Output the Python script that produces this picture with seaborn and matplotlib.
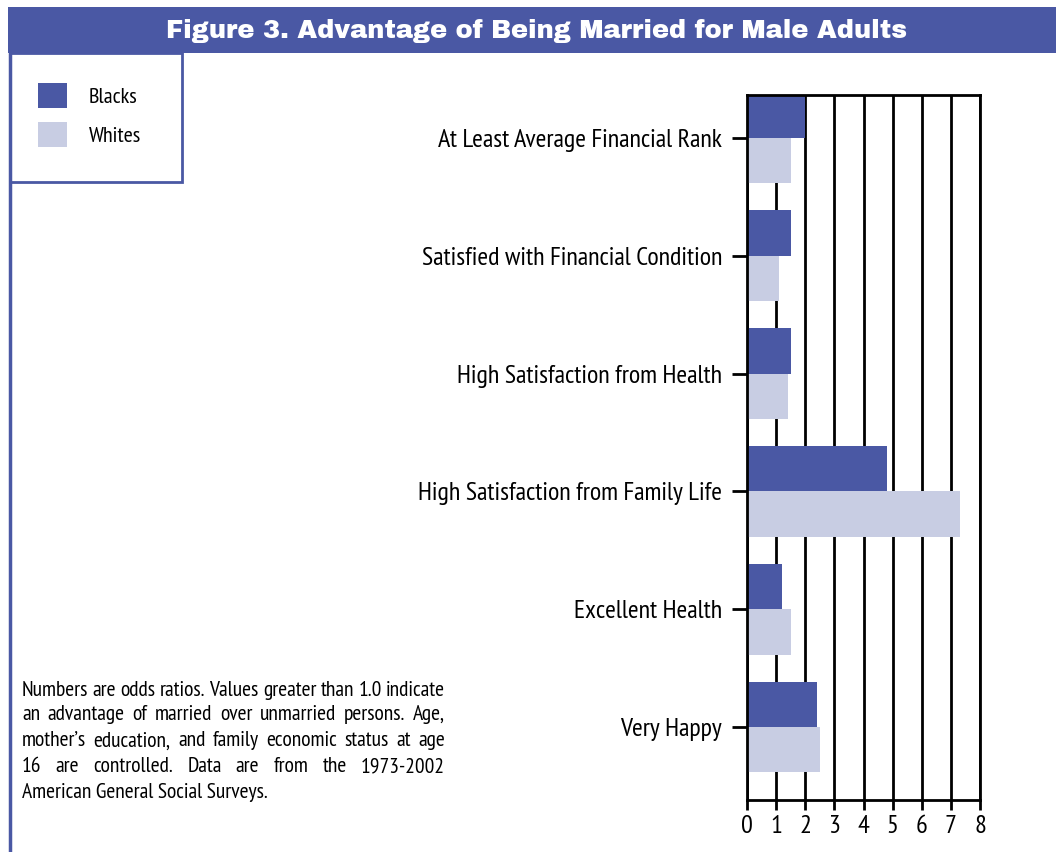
import matplotlib
matplotlib.use("Agg")
import matplotlib.pyplot as plt
import seaborn as sns
import pandas as pd
from matplotlib.patches import Rectangle, Patch
from matplotlib.lines import Line2D

categories = [
    "At Least Average Financial Rank",
    "Satisfied with Financial Condition",
    "High Satisfaction from Health",
    "High Satisfaction from Family Life",
    "Excellent Health",
    "Very Happy",
]
blacks = [2.0, 1.5, 1.5, 4.8, 1.2, 2.4]
whites = [1.5, 1.1, 1.4, 7.3, 1.5, 2.5]
groups = ["Blacks", "Whites"]
x_ticks = [0, 1, 2, 3, 4, 5, 6, 7, 8]

title = "Figure 3. Advantage of Being Married for Male Adults"
note_lines = [
    "Numbers are odds ratios. Values greater than 1.0 indicate",
    "an advantage of married over unmarried persons. Age,",
    "mother\u2019s education, and family economic status at age",
    "16 are controlled. Data are from the 1973-2002",
    "American General Social Surveys.",
]

DARK = "#4A58A4"
LIGHT = "#C8CDE3"
NARROW = ["PT Sans Narrow", "DejaVu Sans"]
HEAVY = ["Archivo Black", "DejaVu Sans"]

df = pd.DataFrame({
    "category": categories * 2,
    "value": blacks + whites,
    "group": [groups[0]] * len(categories) + [groups[1]] * len(categories),
})

sns.set_style("white")
plt.rcParams["font.family"] = NARROW
plt.rcParams["text.color"] = "black"

W, H = 1056, 852
fig = plt.figure(figsize=(W / 100, H / 100), dpi=100)

def fx(px):
    return px / W

def fy(py):
    return 1 - py / H

ax = fig.add_axes([fx(747), fy(800), fx(980) - fx(747), fy(95) - fy(800)])
sns.barplot(data=df, y="category", x="value", hue="group", order=categories,
            hue_order=groups, palette=[DARK, LIGHT], orient="h", width=0.77,
            gap=0, saturation=1, ax=ax, legend=False)
ax.set_xlim(0, 8)
ax.set_ylim(5.62, -0.365)
ax.set_xticks(x_ticks)
ax.set_xticklabels([str(t) for t in x_ticks], fontsize=19, family=NARROW, color="black")
ax.set_yticks(range(len(categories)))
ax.set_yticklabels(categories, fontsize=18.7, family=NARROW, color="black")
ax.set_xlabel("")
ax.set_ylabel("")
ax.set_axisbelow(True)
ax.grid(axis="x", color="black", linewidth=2)
ax.grid(axis="y", visible=False)
for s in ax.spines.values():
    s.set_visible(True)
    s.set_color("black")
    s.set_linewidth(2)
ax.tick_params(axis="y", left=True, length=11, width=2, color="black", pad=7, direction="out")
ax.tick_params(axis="x", bottom=True, length=7, width=2, color="black", pad=4, direction="out")
for p in ax.patches:
    p.set_edgecolor("none")

# Title band
fig.patches.append(Rectangle((fx(8), fy(53)), 1 - fx(8), fy(7) - fy(53),
                             transform=fig.transFigure, facecolor=DARK,
                             edgecolor="none", zorder=0))
fig.text(fx(537), fy(31), title, color="white", fontsize=18.5,
         family=HEAVY, ha="center", va="center")

# Left border line
fig.add_artist(Line2D([fx(10), fx(10)], [fy(53), 0], transform=fig.transFigure,
                      color=DARK, linewidth=2.5))
# Legend box
fig.patches.append(Rectangle((fx(10), fy(182)), fx(182) - fx(10), fy(53) - fy(182),
                             transform=fig.transFigure, facecolor="white",
                             edgecolor=DARK, linewidth=2, zorder=1))
handles = [Patch(facecolor=DARK, edgecolor="none"), Patch(facecolor=LIGHT, edgecolor="none")]
fig.legend(handles, groups, loc="upper left", bbox_to_anchor=(fx(38), fy(83)),
           bbox_transform=fig.transFigure, frameon=False,
           handlelength=1.31, handleheight=1.35, handletextpad=0.99,
           labelspacing=0.63, borderpad=0, borderaxespad=0,
           prop={"family": NARROW, "size": 16})

# Justified note text
fig.canvas.draw()
renderer = fig.canvas.get_renderer()
left_px, right_px = 22, 445
line_y = [690, 715, 741, 767, 792]
fs = 15.5
for i, line in enumerate(note_lines):
    words = line.split(" ")
    if i == len(note_lines) - 1:
        fig.text(fx(left_px), fy(line_y[i]), line, fontsize=fs, family=NARROW,
                 ha="left", va="center")
        continue
    widths = []
    for w in words:
        t = fig.text(0, 0, w, fontsize=fs, family=NARROW)
        widths.append(t.get_window_extent(renderer).width)
        t.remove()
    total = sum(widths)
    gap = max((right_px - left_px - total) / (len(words) - 1), 3)
    x = left_px
    for w, wd in zip(words, widths):
        fig.text(fx(x), fy(line_y[i]), w, fontsize=fs, family=NARROW,
                 ha="left", va="center")
        x += wd + gap

fig.savefig("out.png", dpi=100)
